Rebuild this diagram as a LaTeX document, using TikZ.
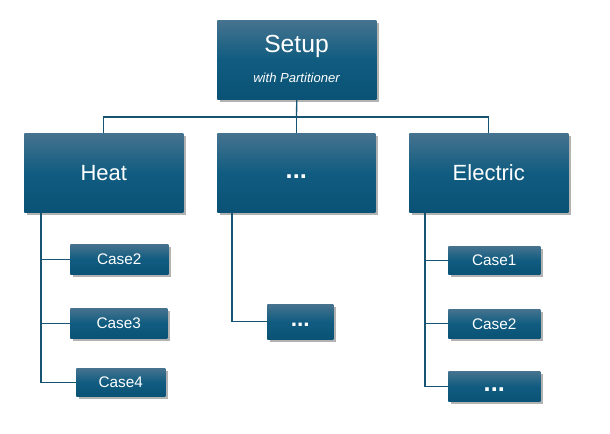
\documentclass[tikz,border=0pt]{standalone}
\usepackage{fontspec}
\setmainfont{Liberation Sans}
\usetikzlibrary{shadows,calc}
\definecolor{boxtop}{RGB}{70,115,143}
\definecolor{boxmid}{RGB}{16,92,128}
\definecolor{boxbot}{RGB}{10,82,118}
\definecolor{linec}{RGB}{22,84,114}
\tikzset{
  box/.style={draw=none, rectangle, inner sep=0pt, anchor=north west,
    top color=boxtop, bottom color=boxbot, middle color=boxmid,
    text=white,
    drop shadow={shadow xshift=1.8pt, shadow yshift=-2.2pt, opacity=0.3, fill=black}},
  conn/.style={draw=linec, line width=1pt},
}
\begin{document}
\begin{tikzpicture}[x=0.75pt,y=-0.75pt]
\useasboundingbox (0,0) rectangle (610,434);
% level 0
\node[box, minimum width=159*0.75pt, minimum height=79*0.75pt] (setup) at (217,20) {};
\node[text=white, font=\fontsize{18.5}{20}\selectfont] (setupt) at (296.5,46) {Setup};
\node[text=white, font=\fontsize{9.8}{11}\selectfont\itshape] (setups) at (296.5,78) {with Partitioner};
% level 1
\node[box, minimum width=159*0.75pt, minimum height=79*0.75pt, font=\fontsize{16.5}{18}\selectfont] (heat) at (24,133) {Heat};
\node[box, minimum width=158*0.75pt, minimum height=79*0.75pt, font=\fontsize{19}{20}\selectfont\bfseries] (mid) at (217,133) {\strut...};
\node[box, minimum width=159*0.75pt, minimum height=79*0.75pt, font=\fontsize{16.5}{18}\selectfont] (elec) at (409,133) {Electric};
% level 2 heat
\node[box, minimum width=98*0.75pt, minimum height=30*0.75pt, font=\fontsize{11.5}{13}\selectfont] (h2) at (70,244) {Case2};
\node[box, minimum width=97*0.75pt, minimum height=30*0.75pt, font=\fontsize{11.5}{13}\selectfont] (h3) at (70,308) {Case3};
\node[box, minimum width=89*0.75pt, minimum height=28*0.75pt, font=\fontsize{11.5}{13}\selectfont] (h4) at (76,368) {Case4};
% level 2 mid
\node[box, minimum width=66*0.75pt, minimum height=35*0.75pt, font=\fontsize{17}{18}\selectfont\bfseries] (m1) at (267,304) {\strut...};
% level 2 electric
\node[box, minimum width=92*0.75pt, minimum height=28*0.75pt, font=\fontsize{11.5}{13}\selectfont] (e1) at (448,246) {Case1};
\node[box, minimum width=92*0.75pt, minimum height=29*0.75pt, font=\fontsize{11.5}{13}\selectfont] (e2) at (448,309) {Case2};
\node[box, minimum width=92*0.75pt, minimum height=30*0.75pt, font=\fontsize{19}{20}\selectfont\bfseries] (e3) at (448,371) {\strut...};
% connectors
\coordinate (bus) at (296.5,117);
\draw[conn] (setup.south) -- (bus);
\draw[conn] (heat.north) |- (bus) -| (elec.north);
\draw[conn] (bus) -- (bus -| mid.north) -- (mid.north);
\coordinate (hs) at ($(heat.south west)+(17,0)$);
\coordinate (ms) at ($(mid.south west)+(15,0)$);
\coordinate (es) at ($(elec.south west)+(16,0)$);
\draw[conn] (hs) |- (h2.west);
\draw[conn] (hs) |- (h3.west);
\draw[conn] (hs) |- (h4.west);
\draw[conn] (ms) |- (m1.west);
\draw[conn] (es) |- (e1.west);
\draw[conn] (es) |- (e2.west);
\draw[conn] (es) |- (e3.west);
\end{tikzpicture}
\end{document}
